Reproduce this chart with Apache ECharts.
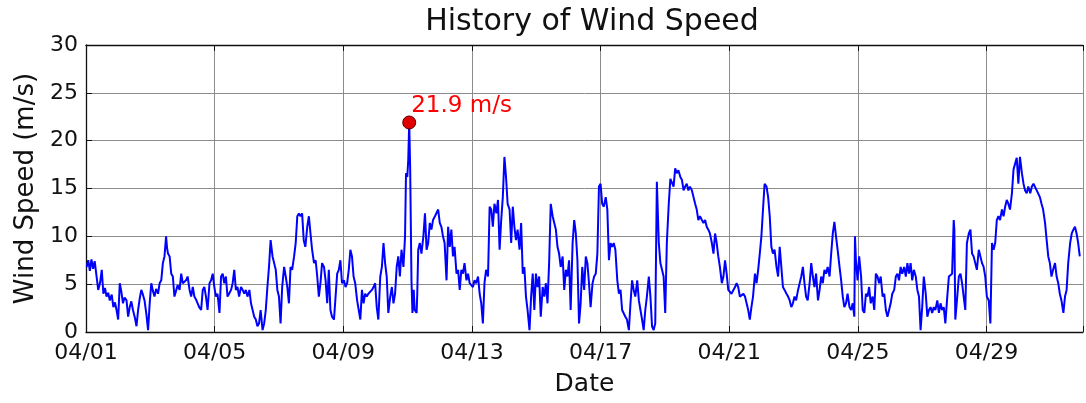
<!DOCTYPE html>
<html>
<head>
<meta charset="utf-8">
<script src="https://cdn.jsdelivr.net/npm/echarts@6/dist/echarts.min.js"></script>
<style>
html,body{margin:0;padding:0;background:#fff;}
#chart{width:1086px;height:403px;}
</style>
</head>
<body>
<div id="chart"></div>
<script>
// Days since 04/01 00:00 and wind speed (m/s)
const dayOffset = [
0.02,0.07,0.12,0.17,0.22,0.27,0.33,0.38,0.44,0.49,0.54,0.59,0.64,0.69,0.74,0.8,0.85,0.9,0.95,1.0,
1.05,1.1,1.15,1.2,1.26,1.31,1.36,1.41,1.46,1.52,1.57,1.62,1.67,1.72,1.77,1.82,1.88,1.93,1.98,2.03,
2.08,2.13,2.18,2.24,2.29,2.34,2.39,2.44,2.49,2.52,2.55,2.6,2.65,2.7,2.75,2.8,2.85,2.91,2.96,3.01,
3.06,3.11,3.16,3.22,3.27,3.32,3.37,3.42,3.47,3.52,3.58,3.63,3.68,3.73,3.78,3.84,3.89,3.94,3.99,4.04,
4.09,4.15,4.2,4.25,4.3,4.35,4.4,4.45,4.51,4.56,4.61,4.66,4.71,4.76,4.82,4.87,4.92,4.97,5.02,5.08,
5.13,5.18,5.23,5.28,5.33,5.38,5.43,5.49,5.54,5.59,5.64,5.69,5.74,5.8,5.85,5.9,5.95,6.0,6.05,6.1,
6.16,6.21,6.26,6.31,6.36,6.41,6.47,6.52,6.57,6.62,6.67,6.72,6.77,6.82,6.88,6.93,6.98,7.03,7.09,7.14,
7.19,7.24,7.29,7.34,7.4,7.45,7.5,7.55,7.6,7.65,7.71,7.76,7.81,7.86,7.91,7.96,8.02,8.07,8.12,8.17,
8.22,8.27,8.32,8.37,8.43,8.48,8.53,8.58,8.63,8.68,8.73,8.78,8.84,8.89,8.94,8.99,9.04,9.09,9.15,9.2,
9.25,9.3,9.35,9.4,9.46,9.51,9.56,9.61,9.66,9.71,9.76,9.81,9.87,9.92,9.95,9.99,10.02,10.05,10.08,10.12,
10.15,10.19,10.22,10.28,10.3,10.33,10.38,10.43,10.49,10.54,10.59,10.64,10.69,10.74,10.79,10.85,10.9,10.95,11.0,11.05,
11.1,11.15,11.21,11.26,11.31,11.36,11.41,11.46,11.52,11.57,11.62,11.67,11.72,11.77,11.83,11.88,11.93,11.98,12.03,12.08,
12.13,12.19,12.24,12.29,12.34,12.39,12.44,12.5,12.55,12.6,12.65,12.7,12.76,12.81,12.86,12.91,12.96,13.01,13.06,13.11,
13.17,13.22,13.27,13.32,13.37,13.42,13.48,13.53,13.58,13.63,13.68,13.73,13.79,13.84,13.89,13.94,13.99,14.04,14.09,14.14,
14.2,14.25,14.3,14.35,14.4,14.45,14.51,14.56,14.61,14.66,14.71,14.76,14.82,14.87,14.92,14.97,15.02,15.07,15.13,15.18,
15.23,15.28,15.33,15.38,15.43,15.49,15.54,15.59,15.64,15.69,15.75,15.8,15.85,15.9,15.95,16.0,16.05,16.1,16.16,16.21,
16.26,16.31,16.36,16.41,16.46,16.52,16.57,16.62,16.67,16.72,16.77,16.82,16.88,16.93,16.98,17.03,17.08,17.14,17.19,17.24,
17.29,17.34,17.39,17.44,17.5,17.55,17.6,17.65,17.7,17.75,17.81,17.86,17.91,17.96,18.01,18.06,18.12,18.17,18.22,18.27,
18.32,18.37,18.42,18.48,18.53,18.58,18.63,18.68,18.73,18.78,18.84,18.89,18.94,18.99,19.04,19.09,19.15,19.2,19.25,19.3,
19.35,19.4,19.46,19.51,19.56,19.61,19.66,19.71,19.77,19.82,19.87,19.92,19.97,20.02,20.07,20.13,20.18,20.23,20.28,20.33,
20.39,20.44,20.49,20.54,20.59,20.64,20.69,20.74,20.8,20.85,20.9,20.95,21.0,21.05,21.1,21.16,21.21,21.26,21.31,21.36,
21.41,21.47,21.52,21.57,21.62,21.67,21.72,21.78,21.83,21.88,21.93,21.98,22.03,22.08,22.14,22.19,22.24,22.29,22.34,22.39,
22.44,22.5,22.55,22.6,22.65,22.7,22.76,22.81,22.86,22.91,22.96,23.01,23.06,23.12,23.17,23.22,23.27,23.32,23.37,23.43,
23.48,23.53,23.58,23.63,23.68,23.74,23.79,23.84,23.89,23.91,23.94,23.99,24.04,24.1,24.15,24.2,24.25,24.3,24.35,24.4,
24.46,24.51,24.56,24.61,24.66,24.71,24.77,24.82,24.87,24.92,24.97,25.02,25.07,25.13,25.18,25.23,25.28,25.33,25.38,25.44,
25.49,25.54,25.59,25.64,25.69,25.74,25.8,25.85,25.9,25.95,26.0,26.05,26.11,26.16,26.21,26.26,26.31,26.36,26.41,26.47,
26.52,26.57,26.62,26.67,26.72,26.78,26.83,26.88,26.93,26.98,27.0,27.03,27.09,27.14,27.19,27.24,27.29,27.34,27.39,27.45,
27.5,27.55,27.6,27.65,27.7,27.76,27.81,27.86,27.91,27.96,28.01,28.07,28.12,28.17,28.22,28.27,28.32,28.37,28.42,28.48,
28.53,28.58,28.63,28.68,28.73,28.79,28.84,28.89,28.94,28.99,29.04,29.1,29.15,29.2,29.25,29.3,29.36,29.41,29.46,29.51,
29.56,29.61,29.66,29.71,29.76,29.82,29.87,29.92,29.97,30.02,30.07,30.13,30.18,30.23,30.28,30.33,30.39,30.44,30.49,30.54,
30.6,30.65,30.7,30.75,30.8,30.85,30.9
];
const windSpeed = [
6.8,7.5,6.4,7.6,6.6,7.4,7.5,4.4,5.2,6.5,4.0,4.6,3.7,4.1,3.3,3.9,2.6,3.1,2.3,1.3,
5.1,4.2,3.0,3.6,3.3,1.6,2.6,3.2,2.3,1.5,0.6,2.3,3.5,4.4,3.9,3.3,1.8,0.2,3.0,5.1,
4.3,3.7,4.5,4.0,5.1,5.4,7.2,7.9,10.0,8.8,8.2,7.9,6.1,5.8,3.7,3.7,4.9,4.4,6.1,5.1,
5.1,5.4,5.8,4.4,3.7,4.7,3.7,3.4,3.0,2.6,2.3,4.4,4.7,3.7,2.3,5.1,5.4,6.1,4.7,3.7,
4.0,2.0,5.8,6.1,5.1,5.8,3.7,4.0,4.4,5.1,6.5,4.4,4.7,3.7,4.7,4.4,4.0,4.4,3.7,4.4,
3.0,2.3,1.6,1.3,0.6,0.9,2.3,0.2,0.9,2.3,4.7,6.8,9.6,7.9,7.2,6.5,4.4,3.7,0.9,4.7,
6.8,5.8,4.7,3.0,6.8,6.5,7.9,9.3,12.1,12.4,12.1,12.4,9.6,8.9,11.0,12.1,10.3,8.6,7.2,7.5,
5.8,3.7,5.1,7.2,6.8,5.4,3.0,6.5,2.3,1.6,1.3,3.7,6.1,6.5,7.5,5.1,5.4,4.7,5.1,6.5,
8.6,7.9,5.8,5.1,3.3,2.3,1.3,4.4,3.0,4.0,3.7,4.0,4.0,4.4,4.7,5.1,2.6,1.3,5.8,6.8,
9.3,7.2,5.8,2.0,3.7,4.7,3.0,4.0,6.8,7.9,5.8,8.6,6.8,10.0,16.6,16.2,18.0,21.9,17.0,5.4,
2.0,4.4,2.3,2.0,4.0,8.6,9.3,8.2,10.0,12.4,8.6,9.3,11.4,10.7,11.7,12.1,12.1,12.8,11.4,11.0,
10.0,9.3,5.4,11.0,8.9,10.7,7.9,8.9,6.1,6.5,4.4,6.5,6.1,7.2,5.4,6.1,5.1,5.1,4.7,5.4,
5.1,5.8,4.0,3.0,0.9,5.1,6.5,5.8,13.1,12.8,11.0,13.4,12.4,13.8,8.6,11.7,14.1,18.3,16.2,13.4,
12.8,9.3,13.1,11.0,9.6,10.7,8.6,11.4,6.1,6.8,3.7,2.3,0.2,3.7,6.1,2.3,6.1,4.7,5.8,1.6,
4.7,3.7,5.1,3.0,7.2,13.4,12.1,11.4,10.7,8.9,8.2,6.8,7.9,4.4,6.5,5.8,7.5,2.3,9.3,11.7,
10.3,7.5,0.9,3.0,6.8,4.4,7.9,7.2,5.1,2.6,5.1,5.8,6.1,8.2,15.2,15.5,13.4,13.1,14.1,12.8,
7.5,9.3,8.9,9.3,8.6,5.4,4.0,4.4,2.3,2.3,1.6,1.3,0.2,3.0,5.4,4.4,3.7,5.4,3.3,2.3,
1.3,0.2,2.3,3.7,5.8,3.7,0.6,0.2,0.9,15.7,9.3,7.2,6.5,5.8,2.0,9.3,13.4,16.0,16.2,15.2,
17.1,16.6,16.9,16.2,15.9,14.8,15.2,15.5,14.8,15.2,14.8,14.1,13.4,12.8,11.7,12.1,11.7,11.4,11.7,11.0,
10.7,10.3,9.3,8.2,10.3,9.3,7.9,6.8,5.1,5.8,7.5,6.1,4.4,4.4,4.0,4.0,4.7,5.1,4.7,3.7,
3.7,4.0,3.7,3.0,2.3,1.3,2.6,3.7,6.1,5.1,6.5,8.2,10.0,12.8,15.5,15.2,14.1,12.1,8.9,8.2,
8.6,6.8,5.8,8.9,6.8,4.7,4.4,4.0,3.7,3.3,2.6,3.0,3.7,3.3,4.4,5.1,5.8,6.8,5.1,3.7,
3.3,5.1,7.2,5.8,4.7,6.1,3.3,4.4,5.8,5.1,6.5,6.1,6.8,5.8,8.2,10.3,11.5,10.0,8.6,6.8,
5.4,3.7,2.6,3.0,4.0,2.6,2.3,3.0,1.6,10.0,7.5,5.4,7.9,5.8,2.3,2.0,4.0,3.7,4.7,3.0,
3.7,2.3,6.1,5.8,5.1,5.8,3.7,4.0,2.3,1.6,2.3,3.0,4.0,4.4,5.8,6.1,5.4,6.8,6.1,6.8,
5.8,7.2,6.1,7.2,5.4,6.5,5.8,4.4,3.7,0.2,2.6,5.8,4.0,1.6,2.3,2.6,2.0,2.6,2.3,3.3,
2.0,3.0,2.3,2.6,0.9,3.7,5.8,5.8,6.1,11.7,10.7,1.3,3.7,5.8,6.1,5.1,3.7,2.3,9.3,10.3,
10.7,8.2,7.9,7.2,6.5,8.6,7.9,7.2,6.8,5.8,3.7,3.3,0.9,9.3,8.6,9.3,11.7,12.1,11.7,12.8,
12.1,13.1,13.8,13.4,12.8,14.5,17.0,16.9,18.2,15.5,18.3,16.6,15.5,14.8,14.5,15.2,14.5,15.2,15.5,15.5,
14.8,14.8,14.1,13.4,12.8,11.4,9.6,7.9,7.2,5.8,6.5,7.2,5.8,5.1,4.0,3.3,2.0,3.7,4.4,7.2,
9.3,10.3,10.7,11.0,10.3,9.3,7.9
];
const xTickLabels = ['04/01','04/05','04/09','04/13','04/17','04/21','04/25','04/29'];
const yTickValues = [0,5,10,15,20,25,30];
const titleText = 'History of Wind Speed';
const xAxisTitle = 'Date';
const yAxisTitle = 'Wind Speed (m/s)';
const peakUnit = ' m/s';

const lineData = dayOffset.map((d, i) => [d, windSpeed[i]]);
let peakIdx = 0;
windSpeed.forEach((v, i) => { if (v > windSpeed[peakIdx]) peakIdx = i; });

const FONT = 'DejaVu Sans';
const chart = echarts.init(document.getElementById('chart'), null, {renderer: 'canvas'});
chart.setOption({
  animation: false,
  backgroundColor: '#fff',
  textStyle: {fontFamily: FONT},
  title: {
    text: titleText,
    left: 587, top: 2, textAlign: 'center',
    textStyle: {fontFamily: FONT, fontSize: 30, fontWeight: 'normal', color: '#111'}
  },
  grid: {left: 86, top: 45, width: 1002, height: 287, containLabel: false},
  xAxis: [{
    type: 'value', min: 0, max: 31, interval: 4,
    name: xAxisTitle, nameLocation: 'middle', nameGap: 40,
    nameTextStyle: {fontFamily: FONT, fontSize: 25, color: '#111'},
    axisLine: {show: true, onZero: false, lineStyle: {color: '#111', width: 1.3}},
    axisTick: {show: true, inside: true, length: 6, lineStyle: {color: '#111'}},
    axisLabel: {fontFamily: FONT, fontSize: 22, color: '#111', margin: 10,
      formatter: v => xTickLabels[Math.round(v / 4)] || ''},
    splitLine: {show: true, lineStyle: {color: '#8c8c8c', width: 1}}
  }, {
    type: 'value', position: 'top', min: 0, max: 31, interval: 4,
    axisLine: {show: true, onZero: false, lineStyle: {color: '#111', width: 1.3}},
    axisTick: {show: true, inside: true, length: 6, lineStyle: {color: '#111'}},
    axisLabel: {show: false}, splitLine: {show: false}
  }],
  yAxis: [{
    type: 'value', min: yTickValues[0], max: yTickValues[yTickValues.length - 1], interval: 5,
    name: yAxisTitle, nameLocation: 'middle', nameGap: 45, nameRotate: 90,
    nameTextStyle: {fontFamily: FONT, fontSize: 26, color: '#111'},
    axisLine: {show: true, onZero: false, lineStyle: {color: '#111', width: 1.3}},
    axisTick: {show: true, inside: true, length: 6, lineStyle: {color: '#111'}},
    axisLabel: {fontFamily: FONT, fontSize: 22, color: '#111', margin: 8},
    splitLine: {show: true, lineStyle: {color: '#8c8c8c', width: 1}}
  }],
  series: [{
    type: 'line', data: lineData, showSymbol: false, symbol: 'none',
    lineStyle: {color: '#0000ff', width: 2}, z: 3
  }, {
    type: 'scatter', data: [[dayOffset[peakIdx], windSpeed[peakIdx]]],
    symbol: 'circle', symbolSize: 13, z: 5,
    itemStyle: {color: '#e00000', borderColor: '#5a0000', borderWidth: 1, opacity: 1},
    label: {
      show: true, position: [9, -21], align: 'left',
      formatter: p => p.value[1].toFixed(1) + peakUnit,
      fontFamily: FONT, fontSize: 23, color: '#ff0000'
    }
  }]
});
</script>
</body>
</html>
